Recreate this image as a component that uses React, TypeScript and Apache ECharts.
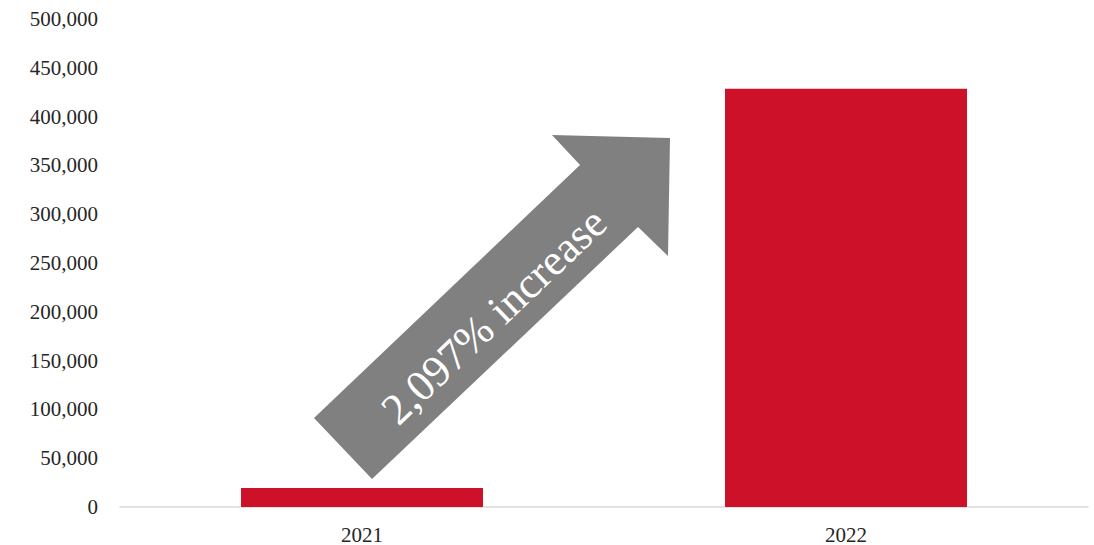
import React, { useEffect, useRef } from "react";
import * as echarts from "echarts";

const categories = ["2021", "2022"];
const values = [19500, 428600];
const increaseLabel = "2,097% increase";
const yMax = 500000;
const yInterval = 50000;

export default function App() {
  const ref = useRef<HTMLDivElement>(null);
  useEffect(() => {
    if (!ref.current) return;
    const chart = echarts.init(ref.current, null, { renderer: "svg" });
    const font = "'Liberation Serif', 'DejaVu Serif', serif";
    chart.setOption({
      animation: false,
      grid: { left: 120, right: 6, top: 19, bottom: 38, containLabel: false },
      xAxis: {
        type: "category",
        data: categories,
        axisLine: { lineStyle: { color: "#d9d9d9", width: 1.5 } },
        axisTick: { show: false },
        axisLabel: { color: "#262626", fontFamily: font, fontSize: 21, margin: 17 },
      },
      yAxis: {
        type: "value",
        min: 0,
        max: yMax,
        interval: yInterval,
        splitLine: { show: false },
        axisLine: { show: false },
        axisTick: { show: false },
        axisLabel: {
          color: "#262626",
          fontFamily: font,
          fontSize: 21,
          margin: 22,
          formatter: (v: number) => v.toLocaleString("en-US"),
        },
      },
      series: [
        {
          type: "bar",
          data: values,
          barWidth: "50%",
          itemStyle: { color: "#cc1129" },
        },
      ],
      graphic: [
        {
          type: "polygon",
          z: 100,
          shape: {
            points: [
              [314, 418],
              [372, 479],
              [638, 227],
              [668, 256],
              [670, 138],
              [552, 135],
              [580, 165],
            ],
          },
          style: { fill: "#808080" },
        },
        {
          type: "text",
          z: 101,
          x: 494,
          y: 316,
          rotation: 0.76,
          style: {
            text: increaseLabel,
            fill: "#ffffff",
            font: "44px 'Liberation Serif', serif",
            align: "center",
            verticalAlign: "middle",
          },
        },
      ],
    });
    return () => chart.dispose();
  }, []);
  return <div ref={ref} style={{ width: 1094, height: 545, position: "absolute", left: 0, top: 0 }} />;
}
